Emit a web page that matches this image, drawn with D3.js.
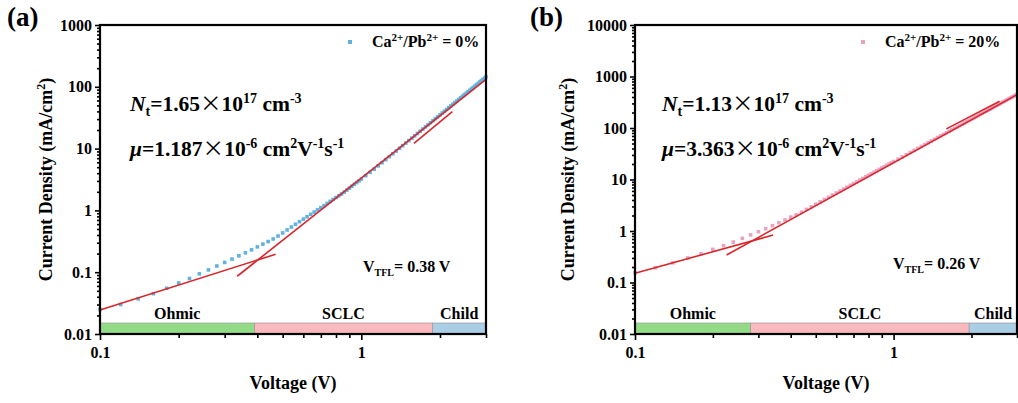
<!DOCTYPE html>
<meta charset="utf-8">
<head>
<style>
  body { margin: 0; background: #fff; }
  svg text { font-family: "Liberation Serif", "Times New Roman", serif; font-weight: bold; fill: #000; white-space: pre; }
</style>
</head>
<script src="https://cdn.jsdelivr.net/npm/d3@7"></script>
<body>
<div id="vis"></div>
<script>
var width = 1018, height = 403;

// bias voltage (V), shared by both samples
var voltage = [0.10, 0.12, 0.14, 0.16, 0.18, 0.20, 0.22, 0.24, 0.26, 0.28,
  0.30, 0.32, 0.34, 0.36, 0.38, 0.40, 0.42, 0.44, 0.46, 0.48,
  0.50, 0.52, 0.54, 0.56, 0.58, 0.60, 0.62, 0.64, 0.66, 0.68,
  0.70, 0.72, 0.74, 0.76, 0.78, 0.80, 0.82, 0.84, 0.86, 0.88,
  0.90, 0.92, 0.94, 0.96, 0.98, 1.00,
  1.04, 1.08, 1.12, 1.16, 1.20, 1.24, 1.28, 1.32, 1.36, 1.40,
  1.44, 1.48, 1.52, 1.56, 1.60, 1.64, 1.68, 1.72, 1.76, 1.80,
  1.84, 1.88, 1.92, 1.96, 2.00, 2.04, 2.08, 2.12, 2.16, 2.20,
  2.24, 2.28, 2.32, 2.36, 2.40, 2.44, 2.48, 2.52, 2.56, 2.60,
  2.64, 2.68, 2.72, 2.76, 2.80, 2.84, 2.88, 2.92, 2.96, 3.00];

// current density (mA/cm2), Ca/Pb = 0%
var currentA = [0.025, 0.030, 0.037, 0.045, 0.055, 0.067, 0.079, 0.094, 0.109, 0.126,
  0.144, 0.163, 0.184, 0.206, 0.230, 0.257, 0.285, 0.313, 0.345, 0.385,
  0.432, 0.483, 0.538, 0.596, 0.657, 0.722, 0.790, 0.863, 0.940, 1.02,
  1.107, 1.197, 1.296, 1.397, 1.503, 1.613, 1.729, 1.84, 1.98, 2.13,
  2.29, 2.46, 2.64, 2.82, 3.01, 3.21,
  3.65, 4.14, 4.64, 5.25, 5.91, 6.62, 7.40, 8.24, 9.14, 10.12,
  11.16, 12.28, 13.48, 14.76, 16.12, 17.57, 19.12, 20.75, 22.49, 24.32,
  26.26, 28.31, 30.46, 32.74, 35.13, 37.64, 40.28, 43.05, 45.95, 48.99,
  52.17, 55.50, 58.97, 62.59, 66.37, 70.32, 74.43, 78.71, 83.16, 87.77,
  92.58, 97.56, 102.7, 108.1, 113.7, 119.5, 125.4, 131.6, 138.0, 144.6];

// current density (mA/cm2), Ca/Pb = 20%
var currentB = [0.155, 0.193, 0.240, 0.300, 0.362, 0.440, 0.520, 0.610, 0.720, 0.840,
  0.970, 1.11, 1.27, 1.45, 1.64, 1.86, 2.06, 2.32, 2.63, 2.95,
  3.31, 3.68, 4.09, 4.52, 4.98, 5.47, 5.97, 6.52, 7.10, 7.71,
  8.35, 9.03, 9.74, 10.48, 11.26, 12.08, 12.93, 13.81, 14.74, 15.71,
  16.71, 17.75, 18.84, 19.96, 21.13, 22.34,
  24.7, 27.4, 30.3, 33.4, 36.7, 40.2, 43.8, 47.7, 51.8, 56.1,
  60.6, 65.3, 70.2, 75.3, 80.7, 86.3, 92.2, 98.3, 104.6, 111.2,
  118.1, 125.2, 132.6, 140.2, 148.1, 156.4, 165.0, 173.8, 183.0, 192.4,
  202.1, 212.2, 222.5, 233.1, 244.1, 255.4, 267.0, 279.0, 291.3, 303.9,
  317.0, 330.3, 344.0, 358.1, 372.5, 387.3, 402.5, 418.0, 434.0, 450.3];

// fit lines [V, J]
var ohmicA = [[0.1, 0.0245], [0.47, 0.195]];
var sclcA = [[0.335, 0.086], [3, 132]];
var childA = [[1.59, 12.2], [2.23, 39.5]];
var ohmicB = [[0.1, 0.151], [0.342, 0.835]];
var sclcB = [[0.226, 0.342], [3, 445]];
var childB = [[1.6, 96], [2.57, 330]];

var yTicksA = [0.01, 0.1, 1, 10, 100, 1000];
var yTicksB = [0.01, 0.1, 1, 10, 100, 1000, 10000];
var xTicks = [0.1, 1];
var xMinorTicks = [0.2, 0.3, 0.4, 0.5, 0.6, 0.7, 0.8, 0.9, 2, 3];

var regionNames = ["Ohmic", "SCLC", "Child"];
var regionColors = ["#93db87", "#f9b9be", "#a9cee6"];
var regionsA = [0.1, 0.39, 1.87, 3];
var regionsB = [0.1, 0.28, 1.96, 3];

var svg = d3.select("#vis").append("svg")
    .attr("width", width)
    .attr("height", height);

// text with sub/superscript pieces
function richText(sel, x, y, size, parts) {
  var t = sel.append("text").attr("x", x).attr("y", y).style("font-size", size + "px");
  var shift = 0;
  parts.forEach(function(p) {
    var target = p.sup ? -size * 0.38 : (p.sub ? size * 0.25 : 0);
    var ts = t.append("tspan").attr("dy", target - shift).text(p.t);
    shift = target;
    if (p.sup || p.sub) ts.style("font-size", Math.round(size * (p.small || 0.66)) + "px");
    if (p.it) ts.style("font-style", "italic");
    if (p.cjk) ts.style("font-family", "'Noto Sans CJK SC'").style("font-weight", "normal");
  });
  return t;
}

function minorTicks(domain) {
  var out = [];
  for (var e = Math.round(Math.log10(domain[0])); e < Math.round(Math.log10(domain[1])); e++) {
    for (var k = 2; k <= 9; k++) out.push(k * Math.pow(10, e));
  }
  return out;
}

function drawPanel(p) {
  var x = d3.scaleLog().domain([0.1, 3]).range([p.left, p.right]);
  var y = d3.scaleLog().domain(p.yDomain).range([p.bottom, p.top]);
  var g = svg.append("g");

  // regime bands along the bottom
  var bands = regionNames.map(function(n, i) {
    return {x0: p.regions[i], x1: p.regions[i + 1], name: n, color: regionColors[i]};
  });
  g.selectAll(".band").data(bands).enter().append("rect")
    .attr("x", function(d) { return x(d.x0); })
    .attr("width", function(d) { return x(d.x1) - x(d.x0); })
    .attr("y", p.bottom - 11)
    .attr("height", 11)
    .attr("fill", function(d) { return d.color; })
    .attr("stroke", "#9a9a9a")
    .attr("stroke-width", 0.7);
  g.selectAll(".bandlabel").data(bands).enter().append("text")
    .attr("x", function(d) { return (x(d.x0) + x(d.x1)) / 2; })
    .attr("y", p.bottom - 15)
    .attr("text-anchor", "middle")
    .style("font-size", "16px")
    .text(function(d) { return d.name; });

  // data points
  var pts = voltage.map(function(v, i) { return [v, p.current[i]]; });
  g.selectAll(".pt").data(pts).enter().append("rect")
    .attr("x", function(d) { return x(d[0]) - 1.8; })
    .attr("y", function(d) { return y(d[1]) - 1.8; })
    .attr("width", 3.6).attr("height", 3.6)
    .attr("fill", p.color);

  // fits
  var line = d3.line().x(function(d) { return x(d[0]); }).y(function(d) { return y(d[1]); });
  p.fits.forEach(function(f) {
    g.append("path").attr("d", line(f))
      .attr("fill", "none").attr("stroke", "#d8262b").attr("stroke-width", 1.6);
  });

  // axes
  var yMinor = d3.axisLeft(y).tickValues(minorTicks(p.yDomain)).tickFormat("").tickSize(3);
  g.append("g").attr("transform", "translate(" + p.left + ",0)").call(yMinor);
  var xMinor = d3.axisBottom(x).tickValues(xMinorTicks).tickFormat("").tickSize(4);
  g.append("g").attr("transform", "translate(0," + p.bottom + ")").call(xMinor);
  var yAxis = d3.axisLeft(y).tickValues(p.yTicks).tickFormat(function(d) { return String(d); })
    .tickSize(5).tickPadding(3);
  g.append("g").attr("class", "ax").attr("transform", "translate(" + p.left + ",0)").call(yAxis);
  var xAxis = d3.axisBottom(x).tickValues(xTicks).tickFormat(function(d) { return String(d); })
    .tickSize(6).tickPadding(7);
  g.append("g").attr("class", "ax").attr("transform", "translate(0," + p.bottom + ")").call(xAxis);
  g.selectAll(".domain").remove();
  g.selectAll(".tick line").attr("stroke", "#000").attr("stroke-width", 1.6);
  g.selectAll(".ax text").style("font-size", "16px").style("font-family", "'Liberation Serif', serif")
    .style("font-weight", "bold").attr("fill", "#000");

  // frame
  g.append("rect")
    .attr("x", p.left).attr("y", p.top)
    .attr("width", p.right - p.left).attr("height", p.bottom - p.top)
    .attr("fill", "none").attr("stroke", "#000").attr("stroke-width", 2.2);

  // axis titles
  g.append("text")
    .attr("transform", "translate(" + p.yTitleX + "," + ((p.top + p.bottom) / 2) + ") rotate(-90)")
    .attr("text-anchor", "middle")
    .style("font-size", "18px")
    .text("Current Density (mA/cm")
    .append("tspan").attr("dy", -7).style("font-size", "12px").text("2")
    .select(function() { return this.parentNode; })
    .append("tspan").attr("dy", 7).text(")");
  g.append("text")
    .attr("x", (p.left + p.right) / 2).attr("y", 389)
    .attr("text-anchor", "middle")
    .style("font-size", "18px")
    .text("Voltage (V)");

  // panel letter
  g.append("text").attr("x", p.letterX).attr("y", 26).style("font-size", "27px").text(p.letter);

  // legend
  g.append("rect").attr("x", p.legX - 2).attr("y", 40).attr("width", 4).attr("height", 4).attr("fill", p.color);
  richText(g, p.legX + 22, 47, 16, [
    {t: "Ca"}, {t: "2+", sup: true}, {t: "/Pb"}, {t: "2+", sup: true}, {t: " = " + p.ratio}
  ]);

  // trap density / mobility
  richText(g, p.noteX, 111, 21.5, [
    {t: "N", it: true}, {t: "t", sub: true}, {t: "=" + p.nt}, {t: "\u00D7", cjk: true},
    {t: "10"}, {t: "17", sup: true}, {t: " cm"}, {t: "-3", sup: true}
  ]);
  richText(g, p.noteX, 156, 21.5, [
    {t: "\u03BC", it: true}, {t: "=" + p.mu}, {t: "\u00D7", cjk: true},
    {t: "10"}, {t: "-6", sup: true}, {t: " cm"}, {t: "2", sup: true}, {t: "V"}, {t: "-1", sup: true},
    {t: "s"}, {t: "-1", sup: true}
  ]);
  richText(g, p.vtflX, p.vtflY, 16, [
    {t: "V"}, {t: "TFL", sub: true, small: 0.6}, {t: "= " + p.vtfl + " V"}
  ]);
}

drawPanel({
  left: 100, right: 486, top: 25, bottom: 334,
  yDomain: [0.01, 1000], yTicks: yTicksA,
  current: currentA, color: "#60b2df",
  fits: [ohmicA, sclcA, childA],
  regions: regionsA,
  yTitleX: 52, letter: "(a)", letterX: 7,
  legX: 350, ratio: "0%",
  noteX: 130, nt: "1.65", mu: "1.187",
  vtflX: 363, vtflY: 272, vtfl: "0.38"
});

drawPanel({
  left: 635, right: 1017, top: 25, bottom: 334,
  yDomain: [0.01, 10000], yTicks: yTicksB,
  current: currentB, color: "#e8a2c2",
  fits: [ohmicB, sclcB, childB],
  regions: regionsB,
  yTitleX: 574, letter: "(b)", letterX: 530,
  legX: 863, ratio: "20%",
  noteX: 662, nt: "1.13", mu: "3.363",
  vtflX: 893, vtflY: 269, vtfl: "0.26"
});
</script>
</body>
